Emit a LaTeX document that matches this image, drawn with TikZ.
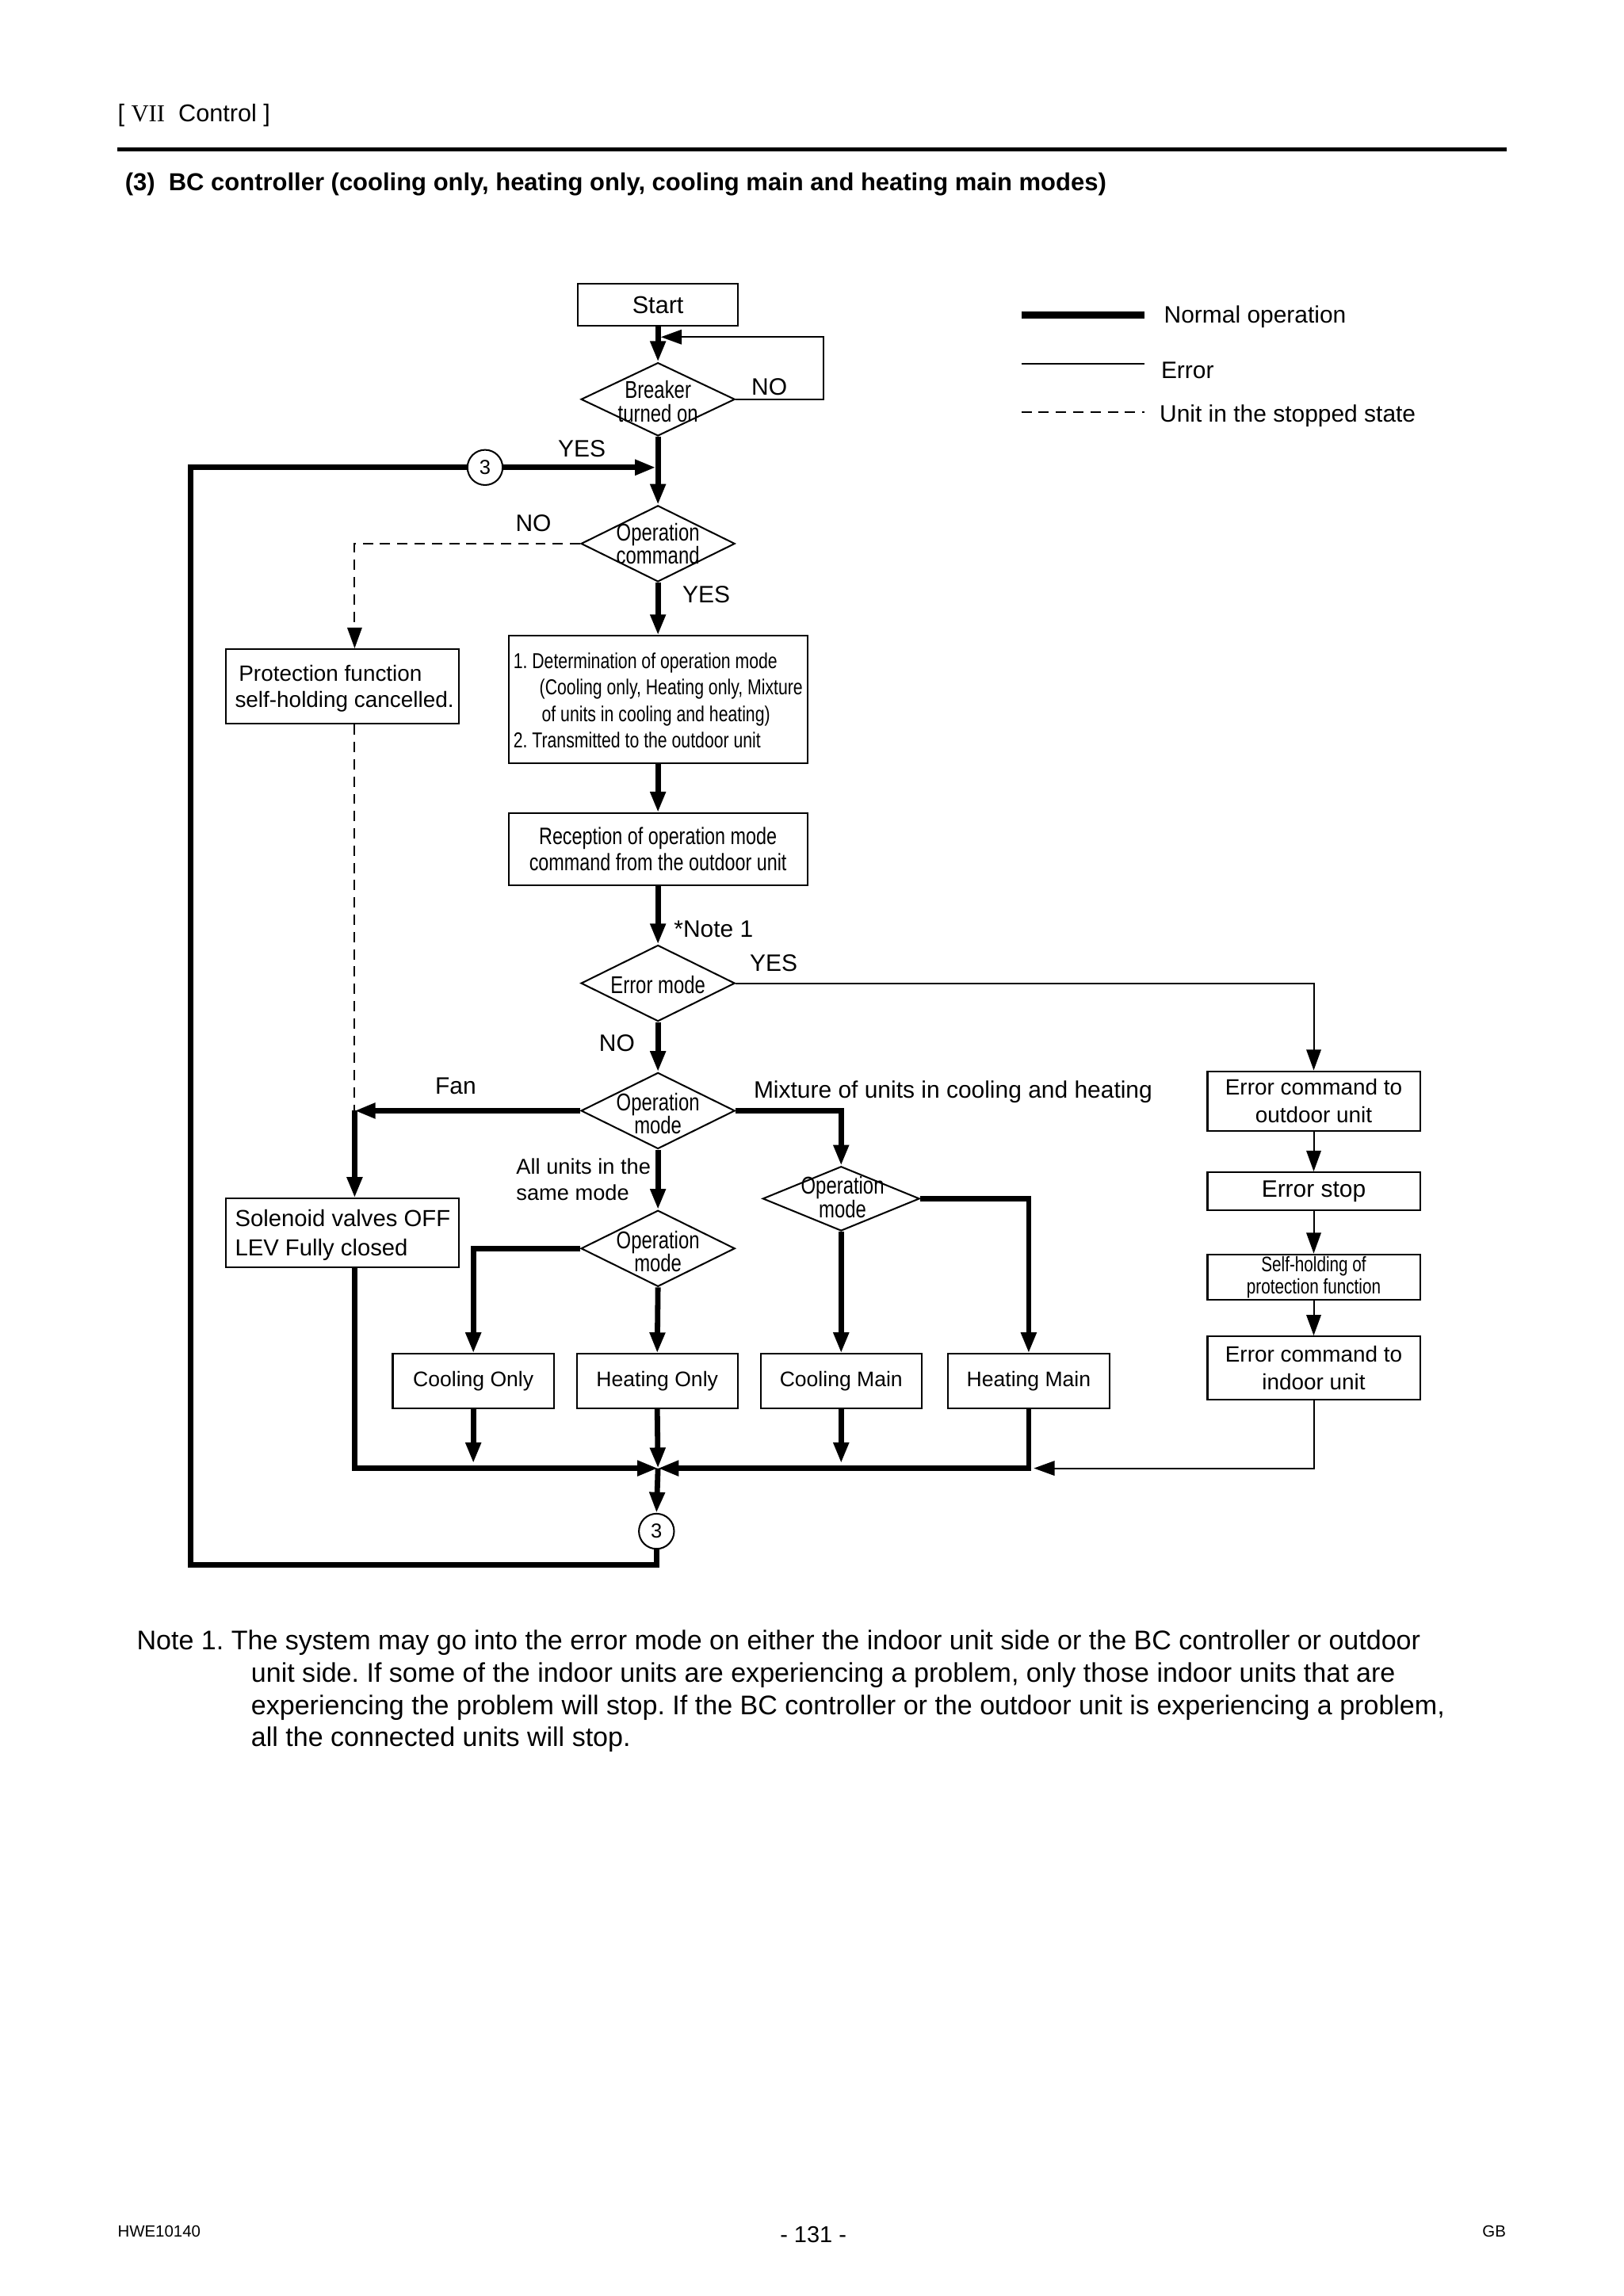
\documentclass[tikz,border=0pt]{standalone}
\usepackage{fontspec}
\setmainfont{Liberation Sans}
\newfontfamily\nar[FakeStretch=0.78]{Liberation Sans}
\newfontfamily\serf{Liberation Serif}
\usetikzlibrary{arrows.meta,shapes.geometric}
\newcommand\pxu{0.19091mm}
\newcommand\setfs[2]{\fontsize{#1}{#2}\selectfont}
\frenchspacing
\begin{document}
\begin{tikzpicture}[x=0.19091mm,y=-0.19091mm,
 box/.style={draw, line width=0.6pt, inner sep=0pt, align=center},
 dia/.style={draw, diamond, line width=0.6pt, inner sep=0pt, minimum width=105*\pxu, minimum height=52*\pxu},
 dtxt/.style={font=\nar\setfs{9}{8.7}, align=center, inner sep=0pt},
 lbl/.style={font=\setfs{8.8}{10.5}, inner sep=0pt},
 nline/.style={line width=2pt},
 eline/.style={line width=0.6pt},
 sline/.style={line width=0.6pt, dash pattern=on 3.8pt off 2.6pt},
 arr/.style={-{Triangle[length=2.7mm,width=1.9mm]}},
 conn/.style={draw, circle, line width=0.6pt, inner sep=0pt, minimum size=24*\pxu, font=\setfs{7.5}{8}},
]
\useasboundingbox (0,0) rectangle (1107.7,1566.9);

% header
\node[anchor=west, inner sep=0pt, font=\setfs{9}{10}] (hdr) at (80,79) {[ {\serf VII}\ \ Control ]};
\draw[line width=1.3pt] (80,102) -- (1028,102);
\node[anchor=west, inner sep=0pt, font=\bfseries\setfs{9.1}{10}] (ttl) at (85,126) {(3)\ \ BC controller (cooling only, heating only, cooling main and heating main modes)};

% coordinates
\coordinate (lcol) at (242,0);
\coordinate (J) at (449,1002);
\coordinate (loopR) at (562,230);
\coordinate (loopend) at (451,230);
\coordinate (c1m) at (447.5,319);
\coordinate (hmR) at (705.5,1002);
\coordinate (bl) at (130,1068);

% nodes
\node[box, minimum width=109*\pxu, minimum height=29*\pxu, font=\setfs{9}{10}] (start) at (449,208) {Start};
\node[dia, minimum height=50*\pxu] (brk) at (449,272.5) {};
\node[dtxt] (brkt) at (449,274) {Breaker\\turned on};
\node[conn] (c1) at (331,319) {3};
\node[dia] (opc) at (449,371) {};
\node[dtxt] (opct) at (449,371) {Operation\\command};
\node[box, minimum width=159*\pxu, minimum height=51*\pxu] (prot) at (233.5,468.5) {};
\node[anchor=west, align=left, inner sep=0pt, font=\setfs{8.2}{9.8}] (prott) at (160,470) {\hspace*{0.5mm}Protection function\\self-holding cancelled.};
\node[box, minimum width=204*\pxu, minimum height=87*\pxu] (det) at (449,477.5) {};
\node[anchor=west, align=left, inner sep=0pt, font=\nar\setfs{8}{9.8}] (dett) at (350,478) {1. Determination of operation mode\\\hspace*{3.4mm}(Cooling only, Heating only, Mixture\\\hspace*{3.7mm}of units in cooling and heating)\\2. Transmitted to the outdoor unit};
\node[box, minimum width=204*\pxu, minimum height=49*\pxu, font=\nar\setfs{8.8}{9.8}] (rec) at (449,579.5) {Reception of operation mode\\command from the outdoor unit};
\node[dia] (errm) at (449,671) {};
\node[dtxt] (errmt) at (449,672) {Error mode};
\node[dia] (opm1) at (449,758) {};
\node[dtxt] (opm1t) at (449,760) {Operation\\mode};
\node[dia, minimum width=107*\pxu, minimum height=44*\pxu] (opm3) at (574,818) {};
\node[dtxt] (opm3t) at (575,817) {Operation\\mode};
\node[dia] (opm2) at (449,852) {};
\node[dtxt] (opm2t) at (449,854) {Operation\\mode};
\node[box, minimum width=159*\pxu, minimum height=47*\pxu] (sol) at (233.5,841.5) {};
\node[anchor=west, align=left, inner sep=0pt, font=\setfs{8.6}{10.8}] (solt) at (160,843) {Solenoid valves OFF\\LEV Fully closed};
\node[box, minimum width=110*\pxu, minimum height=37*\pxu, font=\setfs{7.8}{9}] (co) at (323,942.5) {Cooling Only};
\node[box, minimum width=110*\pxu, minimum height=37*\pxu, font=\setfs{7.8}{9}] (ho) at (448.5,942.5) {Heating Only};
\node[box, minimum width=110*\pxu, minimum height=37*\pxu, font=\setfs{7.8}{9}] (cm) at (574,942.5) {Cooling Main};
\node[box, minimum width=110*\pxu, minimum height=37*\pxu, font=\setfs{7.8}{9}] (hm) at (702,942.5) {Heating Main};
\node[conn] (c2) at (448,1045) {3};
\node[box, minimum width=145*\pxu, minimum height=41*\pxu, font=\setfs{8.2}{10.3}] (ec1) at (896.5,751.5) {Error command to\\outdoor unit};
\node[box, minimum width=145*\pxu, minimum height=26*\pxu, font=\setfs{8.8}{10}] (es) at (896.5,813) {Error stop};
\node[box, minimum width=145*\pxu, minimum height=31*\pxu, font=\nar\setfs{7.8}{6.6}] (sh) at (896.5,871.5) {Self-holding of\\protection function};
\node[box, minimum width=145*\pxu, minimum height=43*\pxu, font=\setfs{8.2}{10.3}] (ec2) at (896.5,933.5) {Error command to\\indoor unit};

% labels
\node[lbl] (l1) at (525,264) {NO};
\node[lbl] (l2) at (397,306) {YES};
\node[lbl] (l3) at (364,357) {NO};
\node[lbl] (l4) at (482,406) {YES};
\node[lbl] (l5) at (487,634) {*Note 1};
\node[lbl] (l6) at (528,657) {YES};
\node[lbl] (l7) at (421,712) {NO};
\node[lbl] (l8) at (311,741) {Fan};
\node[lbl, anchor=west] (l9) at (514,745) {Mixture of units in cooling and heating};
\node[lbl, anchor=west, align=left, font=\setfs{8}{9.8}] (l10) at (352,805) {All units in the\\same mode};

% legend
\draw[line width=2.4pt] (697,215) -- (781,215);
\node[lbl, anchor=west] (lg1) at (794,216) {Normal operation};
\draw[eline] (697,248) -- (781,248);
\node[lbl, anchor=west] (lg2) at (792,253) {Error};
\draw[sline] (697,281) -- (781,281);
\node[lbl, anchor=west] (lg3) at (791,284) {Unit in the stopped state};

% connectors
\draw[nline,arr] (start.south) -- (brk.north);
\draw[eline,arr] (brk.east) -| (loopR) -- (loopend);
\draw[nline,arr] (brk.south) -- (opc.north);
\draw[nline,arr] (c1.east) -- (c1m);
\draw[sline,arr] (opc.west) -| (lcol |- prot.north);
\draw[nline,arr] (opc.south) -- (det.north);
\draw[nline,arr] (det.south) -- (rec.north);
\draw[nline,arr] (rec.south) -- (errm.north);
\draw[eline,arr] (errm.east) -| (ec1.north);
\draw[eline,arr] (ec1.south) -- (es.north);
\draw[eline,arr] (es.south) -- (sh.north);
\draw[eline,arr] (sh.south) -- (ec2.north);
\draw[eline,arr] (ec2.south) |- (hmR);
\draw[nline,arr] (errm.south) -- (opm1.north);
\draw[sline] (lcol |- prot.south) -- (lcol |- opm1.west);
\draw[nline,arr] (opm1.west) -- (lcol |- opm1.west);
\draw[nline,arr] (lcol |- opm1.west) -- (lcol |- sol.north);
\draw[nline,arr] (opm1.east) -| (opm3.north);
\draw[nline,arr] (opm1.south) -- (opm2.north);
\draw[nline,arr] (opm2.west) -| (co.north);
\draw[nline,arr] (opm2.south) -- (ho.north);
\draw[nline,arr] (opm3.south) -- (cm.north);
\draw[nline,arr] (opm3.east) -| (hm.north);
\draw[nline,arr] (co.south) -- ++(0,37);
\draw[nline,arr] (ho.south) -- (J);
\draw[nline,arr] (cm.south) -- ++(0,37);
\draw[nline,arr] (hm.south) |- (J);
\draw[nline,arr] (lcol |- sol.south) |- (J);
\draw[nline,arr] (J) -- (c2.north);
\draw[nline] (c2.south) |- (bl) |- (c1.west);

% note
\node[anchor=north west, align=left, inner sep=0pt, font=\setfs{10}{12}] (note) at (93,1112) {Note 1. The system may go into the error mode on either the indoor unit side or the BC controller or outdoor\\\hspace*{14.9mm}unit side. If some of the indoor units are experiencing a problem, only those indoor units that are\\\hspace*{14.9mm}experiencing the problem will stop. If the BC controller or the outdoor unit is experiencing a problem,\\\hspace*{14.9mm}all the connected units will stop.};

% footer
\node[anchor=west, inner sep=0pt, font=\setfs{6}{7}] (f1) at (80,1523) {HWE10140};
\node[inner sep=0pt, font=\setfs{8.5}{10}] (f2) at (555,1525) {- 131 -};
\node[anchor=east, inner sep=0pt, font=\setfs{6}{7}] (f3) at (1028,1523) {GB};
\end{tikzpicture}
\end{document}
